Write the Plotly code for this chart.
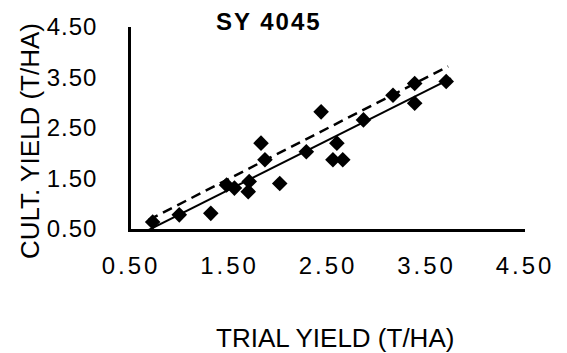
import numpy as np
import plotly.graph_objects as go

# Data
trial_yield = [0.72, 0.99, 1.31, 1.47, 1.55, 1.69, 1.70, 1.82, 1.86, 2.01,
               2.28, 2.43, 2.55, 2.59, 2.65, 2.86, 3.16, 3.38, 3.38, 3.70]
cult_yield = [0.64, 0.78, 0.81, 1.37, 1.31, 1.24, 1.44, 2.20, 1.87, 1.40,
              2.03, 2.82, 1.87, 2.20, 1.87, 2.66, 3.15, 2.99, 3.38, 3.42]
one_to_one_x = [0.68, 3.72]
tick_vals = [0.5, 1.5, 2.5, 3.5, 4.5]
tick_text = ["0.50", "1.50", "2.50", "3.50", "4.50"]
title_text = "SY 4045"
x_title = "TRIAL YIELD (T/HA)"
y_title = "CULT. YIELD (T/HA)"

slope, intercept = np.polyfit(trial_yield, cult_yield, 1)
tx = [min(trial_yield) - 0.05, max(trial_yield) + 0.05]
ty = [slope * v + intercept for v in tx]

fig = go.Figure()
fig.add_trace(go.Scatter(x=one_to_one_x, y=one_to_one_x, mode="lines",
                         line=dict(color="black", width=2.5, dash="10px,6px"),
                         showlegend=False, hoverinfo="skip"))
fig.add_trace(go.Scatter(x=tx, y=ty, mode="lines",
                         line=dict(color="black", width=2),
                         showlegend=False, hoverinfo="skip"))
fig.add_trace(go.Scatter(x=trial_yield, y=cult_yield, mode="markers",
                         marker=dict(symbol="diamond", size=12, color="black"),
                         showlegend=False))

font_family = "Liberation Sans"
x_ticktext = ['<span style="letter-spacing:3px">' + t + '</span>' for t in tick_text]
y_ticktext = ['<span style="letter-spacing:1px">' + t + '</span>' for t in tick_text]
fig.update_layout(
    width=567, height=353,
    margin=dict(l=131, r=42, t=27, b=124),
    paper_bgcolor="white", plot_bgcolor="white",
    font=dict(family=font_family, color="black"),
    xaxis=dict(range=[0.5, 4.5], tickvals=tick_vals, ticktext=x_ticktext,
               showgrid=False, zeroline=False, showline=True,
               linecolor="black", linewidth=2.5, ticks="",
               tickfont=dict(size=24, family=font_family),
               ticklabelstandoff=13),
    yaxis=dict(range=[0.5, 4.5], tickvals=tick_vals, ticktext=y_ticktext,
               showgrid=False, zeroline=False, showline=True,
               linecolor="black", linewidth=2.5, ticks="",
               tickfont=dict(size=24, family=font_family),
               ticklabelstandoff=26),
    showlegend=False,
)
fig.add_annotation(text='<b><span style="letter-spacing:2px">' + title_text + '</span></b>',
                   xref="paper", yref="paper", xanchor="center", yanchor="middle",
                   x=(269 - 131) / 394, y=1 + (27 - 22) / 202,
                   showarrow=False, font=dict(size=24, family=font_family))
fig.add_annotation(text=x_title, xref="paper", yref="paper", xanchor="center", yanchor="middle",
                   x=(335 - 131) / 394, y=-(338 - 229) / 202,
                   showarrow=False, font=dict(size=26, family=font_family))
fig.add_annotation(text=y_title, xref="paper", yref="paper", xanchor="center", yanchor="middle",
                   x=-(131 - 30) / 394, y=(229 - 141) / 202, textangle=-90,
                   showarrow=False, font=dict(size=26, family=font_family))

fig.write_html("out.html", post_script="document.body.style.margin='0';",
               config={"displayModeBar": False})
